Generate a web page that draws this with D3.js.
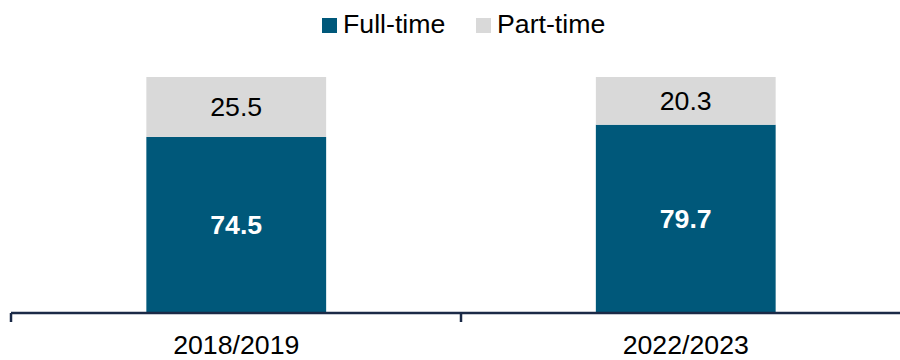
<!DOCTYPE html>
<html>
<head>
<meta charset="utf-8">
<script src="https://cdn.jsdelivr.net/npm/d3@7"></script>
<style>
  html, body { margin: 0; padding: 0; background: #ffffff; }
  svg { display: block; font-family: "Liberation Sans", Arial, sans-serif; }
</style>
</head>
<body>
<svg id="chart" width="900" height="360"></svg>
<script>
// Share of employment by contract type (%)
const categories = ["2018/2019", "2022/2023"];
const seriesNames = ["Full-time", "Part-time"];
const fullTime = [74.5, 79.7];
const partTime = [25.5, 20.3];

const colors = { "Full-time": "#00587A", "Part-time": "#D9D9D9" };
const labelColors = { "Full-time": "#ffffff", "Part-time": "#000000" };
const labelWeights = { "Full-time": "bold", "Part-time": "normal" };

const rows = categories.map((c, i) => ({
  category: c,
  "Full-time": fullTime[i],
  "Part-time": partTime[i]
}));

const svg = d3.select("#chart");

const x = d3.scaleBand()
  .domain(categories)
  .range([11.5, 910.5])
  .paddingInner(0.6)
  .paddingOuter(0.3);

const y = d3.scaleLinear()
  .domain([0, 100])
  .range([312, 77]);

const stacked = d3.stack().keys(seriesNames)(rows);

const layers = svg.append("g")
  .selectAll("g")
  .data(stacked)
  .join("g")
  .attr("fill", d => colors[d.key]);

layers.selectAll("rect")
  .data(d => d.map(p => Object.assign(p, { key: d.key })))
  .join("rect")
  .attr("x", d => x(d.data.category))
  .attr("width", x.bandwidth())
  .attr("y", d => y(d[1]))
  .attr("height", d => y(d[0]) - y(d[1]));

// Value labels centred in each segment
svg.append("g")
  .selectAll("text")
  .data(stacked.flatMap(s => s.map(p => ({ key: s.key, p }))))
  .join("text")
  .attr("x", d => x(d.p.data.category) + x.bandwidth() / 2)
  .attr("y", d => (y(d.p[0]) + y(d.p[1])) / 2 + 9.5)
  .attr("text-anchor", "middle")
  .attr("font-size", "26.7px")
  .attr("font-weight", d => labelWeights[d.key])
  .attr("fill", d => labelColors[d.key])
  .text(d => (d.p[1] - d.p[0]).toFixed(1));

// Category axis along the bottom
const axisG = svg.append("g")
  .attr("transform", "translate(0,313)");

axisG.append("line")
  .attr("x1", 11).attr("x2", 900)
  .attr("stroke", "#1B2A47")
  .attr("stroke-width", 2.5);

const boundaries = [11, (x(categories[0]) + x.bandwidth() + x(categories[1])) / 2];
axisG.selectAll(".tick-mark")
  .data(boundaries)
  .join("line")
  .attr("class", "tick-mark")
  .attr("x1", d => d).attr("x2", d => d)
  .attr("y1", 0).attr("y2", 9)
  .attr("stroke", "#1B2A47")
  .attr("stroke-width", 2.5);

axisG.selectAll(".cat-label")
  .data(categories)
  .join("text")
  .attr("class", "cat-label")
  .attr("x", d => x(d) + x.bandwidth() / 2)
  .attr("y", 41)
  .attr("text-anchor", "middle")
  .attr("font-size", "26.7px")
  .attr("fill", "#000000")
  .text(d => d);

// Legend
const legendItems = [
  { key: "Full-time", sx: 322, tx: 343 },
  { key: "Part-time", sx: 476, tx: 497 }
];
const legend = svg.append("g");
legend.selectAll("rect")
  .data(legendItems)
  .join("rect")
  .attr("x", d => d.sx)
  .attr("y", 18)
  .attr("width", 15)
  .attr("height", 15)
  .attr("fill", d => colors[d.key]);
legend.selectAll("text")
  .data(legendItems)
  .join("text")
  .attr("x", d => d.tx)
  .attr("y", 32.5)
  .attr("font-size", "26.7px")
  .attr("fill", "#000000")
  .text(d => d.key);
</script>
</body>
</html>
